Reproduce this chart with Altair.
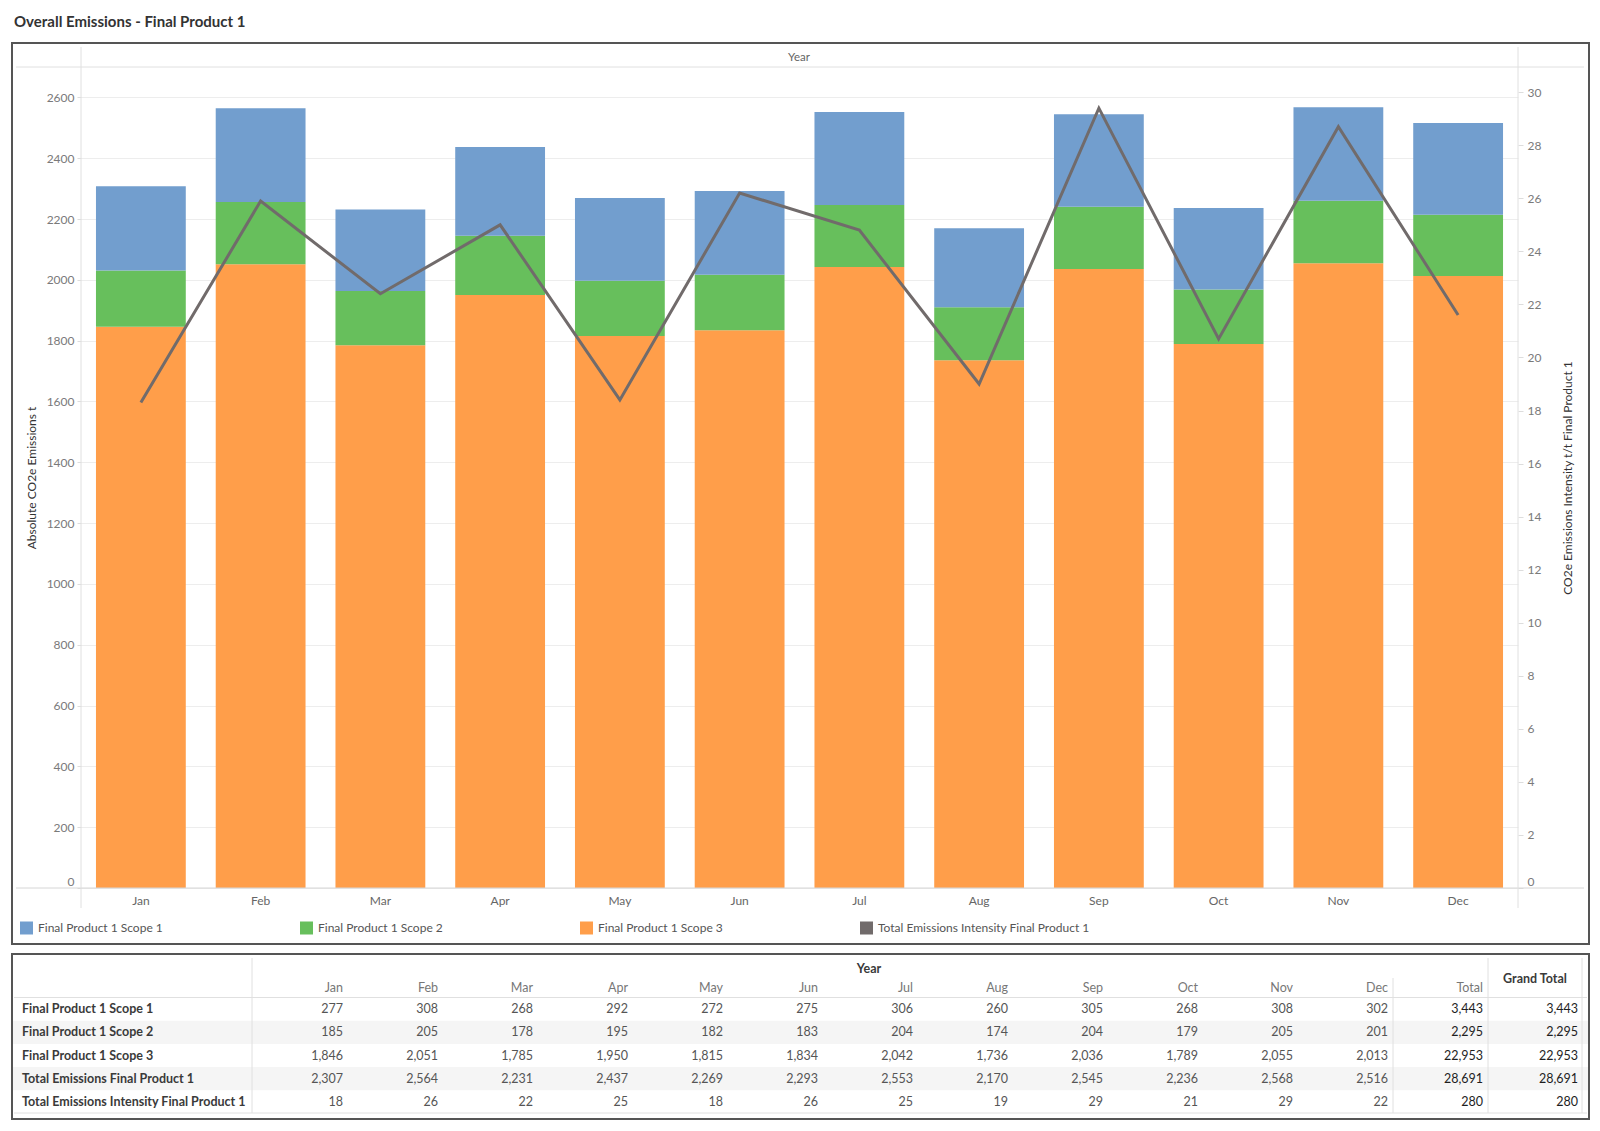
import altair as alt
import pandas as pd

FONT = "Lato"

# ---------------- data ----------------
months = ["Jan", "Feb", "Mar", "Apr", "May", "Jun", "Jul", "Aug", "Sep", "Oct", "Nov", "Dec"]
scope1 = [277, 308, 268, 292, 272, 275, 306, 260, 305, 268, 308, 302]
scope2 = [185, 205, 178, 195, 182, 183, 204, 174, 204, 179, 205, 201]
scope3 = [1846, 2051, 1785, 1950, 1815, 1834, 2042, 1736, 2036, 1789, 2055, 2013]
total_emissions = [2307, 2564, 2231, 2437, 2269, 2293, 2553, 2170, 2545, 2236, 2568, 2516]
intensity = [18.3, 25.9, 22.4, 25.0, 18.4, 26.2, 24.8, 19.0, 29.4, 20.7, 28.7, 21.6]
intensity_table = [18, 26, 22, 25, 18, 26, 25, 19, 29, 21, 29, 22]
row_totals = [3443, 2295, 22953, 28691, 280]

series = [
    "Final Product 1 Scope 1",
    "Final Product 1 Scope 2",
    "Final Product 1 Scope 3",
    "Total Emissions Intensity Final Product 1",
]
colors = ["#729ece", "#67bf5c", "#ff9e4a", "#716b6b"]

table_rows = [
    "Final Product 1 Scope 1",
    "Final Product 1 Scope 2",
    "Final Product 1 Scope 3",
    "Total Emissions Final Product 1",
    "Total Emissions Intensity Final Product 1",
]
table_cols = months + ["Total", "Grand Total"]

# ---------------- frames ----------------
bar_records = []
for i, m in enumerate(months):
    for s, vals, order in [(series[2], scope3, 0), (series[1], scope2, 1), (series[0], scope1, 2)]:
        bar_records.append({"month": m, "series": s, "value": vals[i], "stack": order})
bars_df = pd.DataFrame(bar_records)
line_df = pd.DataFrame({"month": months, "series": series[3], "value": intensity})

row_values = [scope1, scope2, scope3, total_emissions, intensity_table]
cell_records = []
for r, vals, tot in zip(table_rows, row_values, row_totals):
    for m, v in zip(months, vals):
        cell_records.append({"row": r, "col": m, "value": v, "kind": "month"})
    cell_records.append({"row": r, "col": "Total", "value": tot, "kind": "total"})
    cell_records.append({"row": r, "col": "Grand Total", "value": tot, "kind": "total"})
cells_df = pd.DataFrame(cell_records)
rows_df = pd.DataFrame({"row": table_rows, "stripe": [0, 1, 0, 1, 0]})
head_df = pd.DataFrame({"col": months + ["Total"]})
grand_df = pd.DataFrame({"col": ["Grand Total"]})
dummy = pd.DataFrame({"a": [0]})

# ---------------- main chart ----------------
W, H = 1437, 821
GRID = "#ededed"
LINE = "#e0e0e0"
FS = 12

color_scale = alt.Scale(domain=series, range=colors)

x_enc = alt.X(
    "month:N",
    sort=months,
    scale=alt.Scale(paddingInner=0.25, paddingOuter=0.125),
    axis=alt.Axis(
        title=None, labelAngle=0, labelColor="#666666", labelFontSize=FS, labelFont=FONT,
        labelPadding=7, ticks=False, tickSize=0, domain=False, grid=False,
    ),
)

legend = alt.Legend(
    title=None, orient="none", legendX=-61, legendY=854.5, direction="horizontal",
    columns=4, gridAlign="all", columnPadding=50, symbolType="square", symbolSize=169,
    symbolStrokeWidth=0, labelFontSize=FS, labelColor="#555555", labelFont=FONT,
    labelLimit=400, padding=0, labelOffset=5, rowPadding=0,
)

bars = alt.Chart(bars_df).mark_bar().encode(
    x=x_enc,
    y=alt.Y(
        "value:Q", stack="zero",
        scale=alt.Scale(domain=[0, 2700], nice=False),
        axis=alt.Axis(
            orient="left", values=list(range(0, 2601, 200)), format="d",
            title="Absolute CO2e Emissions t",
            titleFontSize=FS, titleColor="#333333", titleFontWeight="normal", titleFont=FONT,
            titlePadding=8, labelFontSize=FS, labelColor="#7a7a7a", labelFont=FONT,
            labelFlush=True, labelPadding=3, tickSize=4, tickColor="#dddddd",
            domain=False, grid=True, gridColor=GRID,
        ),
    ),
    color=alt.Color("series:N", scale=color_scale, legend=legend),
    order=alt.Order("stack:Q", sort="ascending"),
)

line = alt.Chart(line_df).mark_line(strokeWidth=3).encode(
    x=x_enc,
    y=alt.Y(
        "value:Q",
        scale=alt.Scale(domain=[0, 30.95], nice=False),
        axis=alt.Axis(
            orient="right", values=list(range(0, 31, 2)), format="d",
            title="CO2e Emissions Intensity t/t Final Product 1", titleAngle=270,
            titleFontSize=FS, titleColor="#333333", titleFontWeight="normal", titleFont=FONT,
            titlePadding=34, labelFontSize=FS, labelColor="#7a7a7a", labelFont=FONT,
            labelFlush=True, labelPadding=4, tickSize=5, tickColor="#dddddd",
            domain=False, grid=False,
        ),
    ),
    color=alt.Color("series:N", scale=color_scale, legend=None),
)

anchor = alt.Chart(dummy).mark_rect(opacity=0).encode(
    x=alt.value(-73), x2=alt.value(-72), y=alt.value(-59), y2=alt.value(-58)
)
frame = alt.Chart(dummy).mark_rect(fillOpacity=0, stroke="#555555", strokeWidth=2).encode(
    x=alt.value(-69), x2=alt.value(1508), y=alt.value(-24), y2=alt.value(877)
)
top_rule = alt.Chart(dummy).mark_rule(color=LINE, strokeWidth=1).encode(
    x=alt.value(-65), x2=alt.value(1503), y=alt.value(0)
)
base_rule = alt.Chart(dummy).mark_rule(color="#d6d6d6", strokeWidth=1).encode(
    x=alt.value(-65), x2=alt.value(1503), y=alt.value(H)
)
left_rule = alt.Chart(dummy).mark_rule(color=LINE, strokeWidth=1).encode(
    x=alt.value(0), y=alt.value(-20), y2=alt.value(841)
)
right_rule = alt.Chart(dummy).mark_rule(color=LINE, strokeWidth=1).encode(
    x=alt.value(W), y=alt.value(-20), y2=alt.value(841)
)
title_text = alt.Chart(dummy).mark_text(
    text="Overall Emissions - Final Product 1", align="left", baseline="middle",
    fontSize=15, fontWeight="bold", color="#333333", font=FONT,
).encode(x=alt.value(-67), y=alt.value(-45))
year_text = alt.Chart(dummy).mark_text(
    text="Year", align="center", baseline="middle", fontSize=11.5, color="#666666", font=FONT,
).encode(x=alt.value(718), y=alt.value(-9))

main = alt.layer(
    bars, line, anchor, frame, top_rule, base_rule, left_rule, right_rule, title_text, year_text
).resolve_scale(y="independent").properties(width=W, height=H)

# ---------------- table ----------------
# table shares the main chart's left origin (page x = 81); x offsets relative to it
TH = 165
OX = -69
col_scale = alt.Scale(domain=table_cols, range=[331 + OX, 1566 + OX], padding=0)
row_scale = alt.Scale(domain=table_rows, range=[43.5, 159.5], paddingInner=0, paddingOuter=0)

stripes = alt.Chart(rows_df).mark_rect(color="#f5f5f5").encode(
    y=alt.Y("row:N", scale=row_scale, axis=None),
    x=alt.value(1 + OX), x2=alt.value(1576 + OX),
).transform_filter("datum.stripe == 1")

t_frame = alt.Chart(dummy).mark_rect(fillOpacity=0, stroke="#555555", strokeWidth=2).encode(
    x=alt.value(OX), x2=alt.value(1577 + OX), y=alt.value(0), y2=alt.value(TH)
)

def hrule(y, x1, x2):
    return alt.Chart(dummy).mark_rule(color=LINE, strokeWidth=1).encode(
        x=alt.value(x1 + OX), x2=alt.value(x2 + OX), y=alt.value(y)
    )

def vrule(x, y1, y2):
    return alt.Chart(dummy).mark_rule(color=LINE, strokeWidth=1).encode(
        x=alt.value(x + OX), y=alt.value(y1), y2=alt.value(y2)
    )

t_lines = [
    hrule(43.5, 2, 1575), hrule(159, 2, 1575),
    vrule(240, 4, 159), vrule(1381, 24, 159), vrule(1476, 4, 159), vrule(1570, 4, 159),
]

row_heads = alt.Chart(rows_df).mark_text(
    align="left", baseline="middle", fontSize=12.5, fontWeight="bold", color="#3a3a3a", font=FONT
).encode(
    y=alt.Y("row:N", scale=row_scale, axis=None),
    x=alt.value(10 + OX),
    text="row:N",
)

month_cells = alt.Chart(cells_df).mark_text(
    align="right", baseline="middle", fontSize=12.5, color="#555555", font=FONT
).encode(
    x=alt.X("col:N", scale=col_scale, axis=None),
    y=alt.Y("row:N", scale=row_scale, axis=None),
    text=alt.Text("value:Q", format=","),
).transform_filter("datum.kind == 'month'")

total_cells = alt.Chart(cells_df).mark_text(
    align="right", baseline="middle", fontSize=12.5, color="#1e1e1e", font=FONT
).encode(
    x=alt.X("col:N", scale=col_scale, axis=None),
    y=alt.Y("row:N", scale=row_scale, axis=None),
    text=alt.Text("value:Q", format=","),
).transform_filter("datum.kind == 'total'")

col_heads = alt.Chart(head_df).mark_text(
    align="right", baseline="middle", fontSize=12.5, color="#777777", font=FONT
).encode(
    x=alt.X("col:N", scale=col_scale, axis=None),
    y=alt.value(34),
    text="col:N",
)

grand_head = alt.Chart(grand_df).mark_text(
    align="center", baseline="middle", fontSize=12.5, fontWeight="bold", color="#3a3a3a",
    font=FONT, dx=-43,
).encode(
    x=alt.X("col:N", scale=col_scale, axis=None),
    y=alt.value(25),
    text="col:N",
)

year_head = alt.Chart(dummy).mark_text(
    text="Year", align="center", baseline="middle", fontSize=12.5, fontWeight="bold",
    color="#3a3a3a", font=FONT,
).encode(x=alt.value(857 + OX), y=alt.value(14.5))

table = alt.layer(
    stripes, *t_lines, t_frame, row_heads, month_cells, total_cells,
    col_heads, grand_head, year_head,
).properties(width=W, height=TH)

chart = (
    alt.vconcat(main, table, spacing=8)
    .properties(padding=0)
    .configure(font=FONT)
    .configure_view(strokeWidth=0)
)

chart.save("out.html", embed_options={"renderer": "svg", "actions": False})
